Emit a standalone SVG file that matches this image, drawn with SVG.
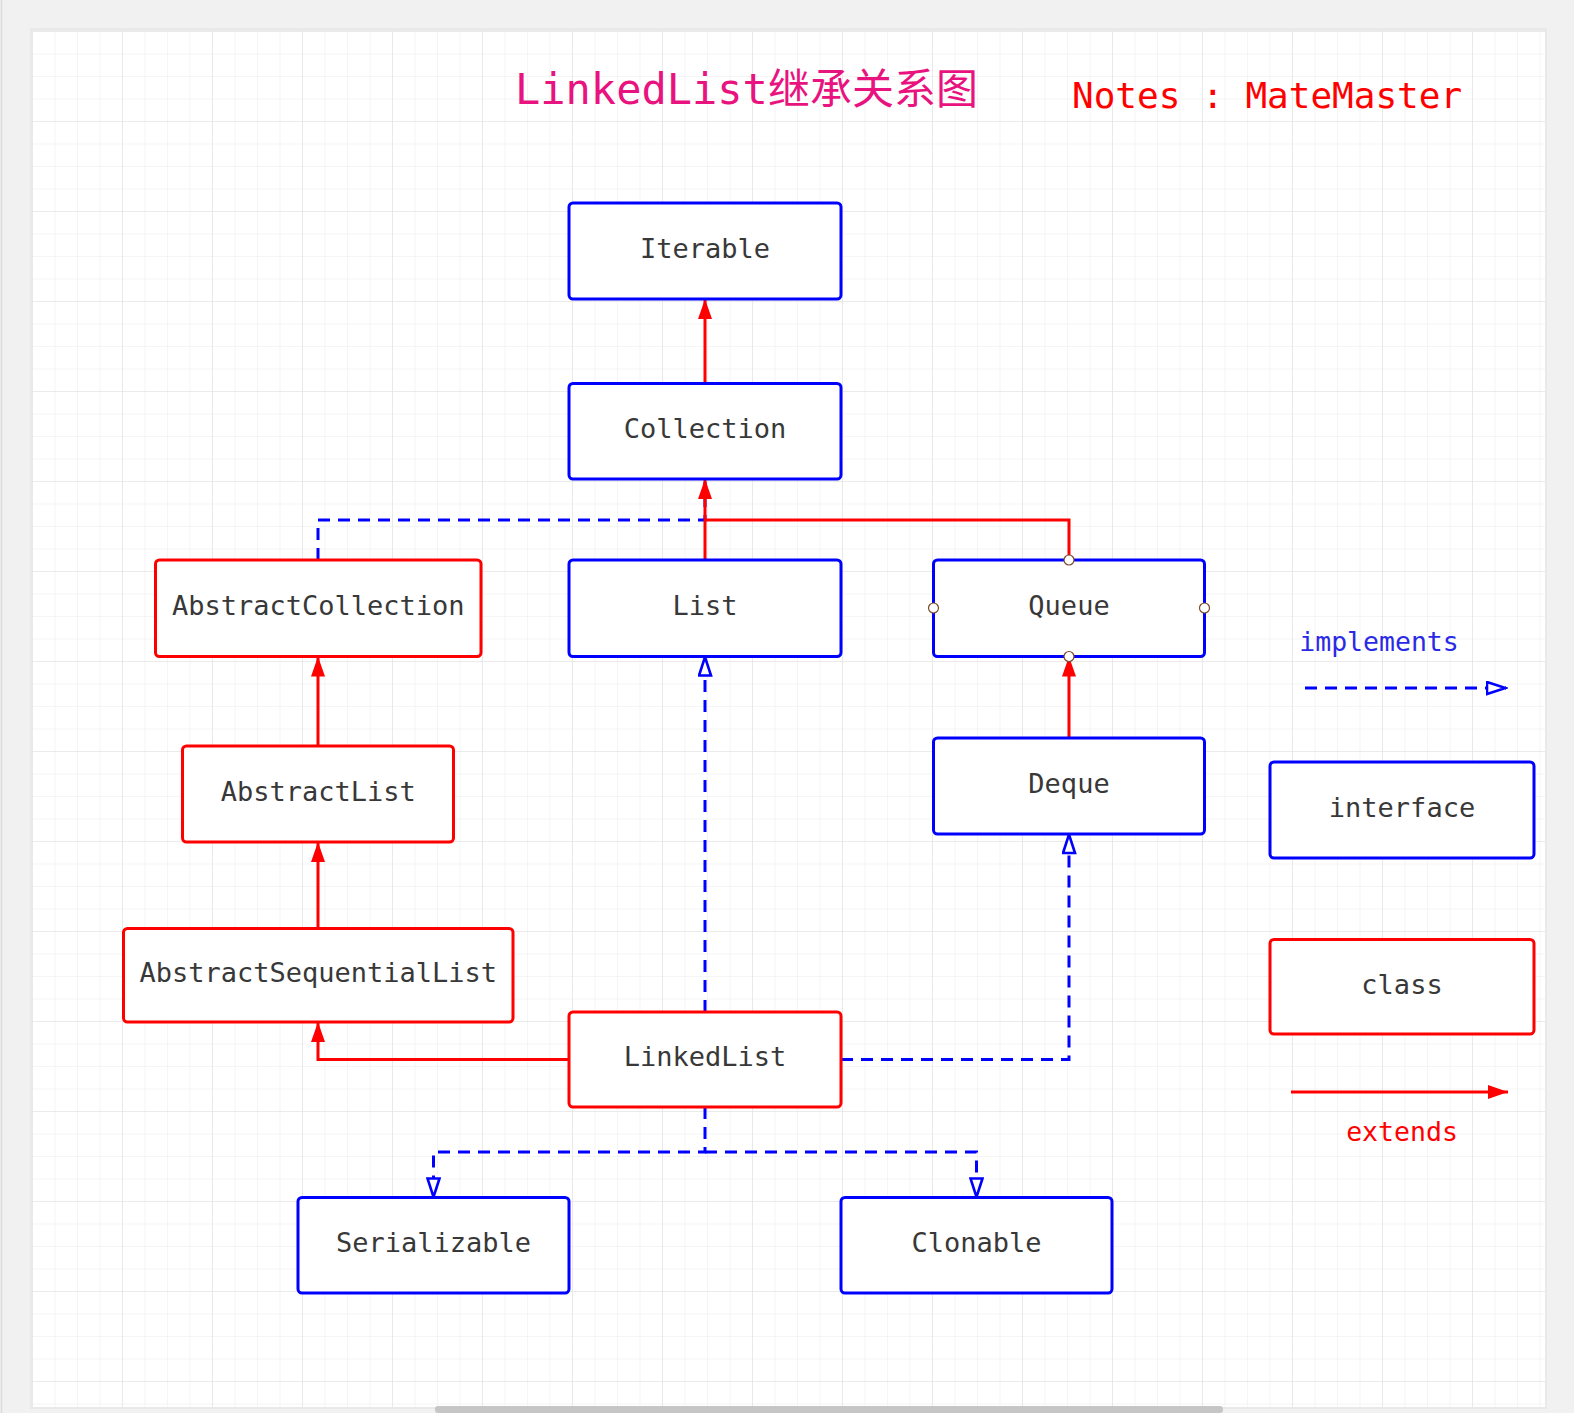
<svg xmlns="http://www.w3.org/2000/svg" width="1574" height="1413" viewBox="0 0 1574 1413">
<style>
.iface{fill:#fff;stroke:#0000ff;stroke-width:3}
.cls{fill:#fff;stroke:#ff0000;stroke-width:3}
.lbl{font-family:"DejaVu Sans Mono","Liberation Mono",monospace;font-size:27px;fill:#383838;text-anchor:middle}
.ext{fill:none;stroke:#ff0000;stroke-width:3}
.imp{fill:none;stroke:#0000ff;stroke-width:3;stroke-dasharray:12 8}
.port{fill:#fff;stroke:#7a4a2a;stroke-width:1.2}
</style>
<defs>
<pattern id="minor" x="32" y="31" width="22.5" height="22.5" patternUnits="userSpaceOnUse">
<path d="M0,0 H22.5 M0,0 V22.5" stroke="#ececec" stroke-width="1" fill="none"/>
</pattern>
<pattern id="major" x="32" y="31" width="90" height="90" patternUnits="userSpaceOnUse">
<path d="M0,0 H90 M0,0 V90" stroke="#e1e1e1" stroke-width="1.2" fill="none"/>
</pattern>
<marker id="aRed" viewBox="0 0 20 14" refX="20" refY="7" markerWidth="20" markerHeight="14" markerUnits="userSpaceOnUse" orient="auto">
<path d="M0,0 L20,7 L0,14 Z" fill="#ff0000"/>
</marker>
<marker id="aBlue" viewBox="0 0 22 15" refX="20.5" refY="7.5" markerWidth="22" markerHeight="15" markerUnits="userSpaceOnUse" orient="auto">
<path d="M1.5,1.5 L20,7.5 L1.5,13.5 Z" fill="#fff" stroke="#0000ff" stroke-width="2.6"/>
</marker>
</defs>

<g id="background">
<rect x="0" y="0" width="1574" height="1413" fill="#f1f1f1"/>
<line x1="1.5" y1="0" x2="1.5" y2="1413" stroke="#dcdcdc" stroke-width="1.5"/>
<rect x="30" y="28" width="1517" height="1381" fill="#e9e9e9"/>
<rect x="32" y="31" width="1513" height="1376" fill="#ffffff"/>
<rect x="32" y="31" width="1513" height="1376" fill="url(#minor)"/>
<rect x="32" y="31" width="1513" height="1376" fill="url(#major)"/>
<rect x="435" y="1406" width="788" height="7" rx="3" fill="#c6c6c6"/>
</g>

<g id="title">
<text x="515" y="104" font-family="'DejaVu Sans Mono','Noto Sans CJK SC',monospace" font-size="42" fill="#e8137e">LinkedList<tspan font-family="'Noto Sans CJK SC',sans-serif">继承关系图</tspan></text>
<text x="1072" y="108" font-family="'DejaVu Sans Mono','Liberation Mono',monospace" font-size="36" fill="#ff0000" xml:space="preserve">Notes : MateMaster</text>
</g>

<g id="connectors">
<path class="imp" d="M318,560 V520 H705 V482"/>
<path class="ext" d="M705,383 V299" marker-end="url(#aRed)"/>
<path class="ext" d="M1069,560 V520 H705"/>
<path class="ext" d="M705,560 V479" marker-end="url(#aRed)"/>
<path class="ext" d="M1069,738 V656.5" marker-end="url(#aRed)"/>
<path class="ext" d="M318,746 V656.5" marker-end="url(#aRed)"/>
<path class="ext" d="M318,928.5 V842" marker-end="url(#aRed)"/>
<path class="ext" d="M569,1059.5 H318 V1022" marker-end="url(#aRed)"/>
<path class="imp" d="M705,1012 V656.5" marker-end="url(#aBlue)"/>
<path class="imp" d="M841,1059.5 H1069 V834" marker-end="url(#aBlue)"/>
<path class="imp" d="M705,1107 V1152 H433.5 V1197.5" marker-end="url(#aBlue)"/>
<path class="imp" d="M705,1152 H976.5 V1197.5" marker-end="url(#aBlue)"/>
</g>

<g id="node-iterable">
<rect class="iface" x="569" y="203" width="272" height="96" rx="4"/>
<text class="lbl" x="705" y="258">Iterable</text>
</g>
<g id="node-collection">
<rect class="iface" x="569" y="383.5" width="272" height="95.5" rx="4"/>
<text class="lbl" x="705" y="438">Collection</text>
</g>
<g id="node-abstractcollection">
<rect class="cls" x="155.5" y="560" width="325.5" height="96.5" rx="4"/>
<text class="lbl" x="318.3" y="615">AbstractCollection</text>
</g>
<g id="node-list">
<rect class="iface" x="569" y="560" width="272" height="96.5" rx="4"/>
<text class="lbl" x="705" y="615">List</text>
</g>
<g id="node-queue">
<rect class="iface" x="933.5" y="560" width="271" height="96.5" rx="4"/>
<text class="lbl" x="1069" y="615">Queue</text>
<circle class="port" cx="1069" cy="560" r="5"/>
<circle class="port" cx="1069" cy="656.5" r="5"/>
<circle class="port" cx="933.5" cy="608" r="5"/>
<circle class="port" cx="1204.5" cy="608" r="5"/>
</g>
<g id="node-abstractlist">
<rect class="cls" x="182.5" y="746" width="271" height="96" rx="4"/>
<text class="lbl" x="318.2" y="801">AbstractList</text>
</g>
<g id="node-deque">
<rect class="iface" x="933.5" y="738" width="271" height="96" rx="4"/>
<text class="lbl" x="1069" y="793">Deque</text>
</g>
<g id="node-abstractsequentiallist">
<rect class="cls" x="123.5" y="928.5" width="389.5" height="93.5" rx="4"/>
<text class="lbl" x="318.3" y="982">AbstractSequentialList</text>
</g>
<g id="node-linkedlist">
<rect class="cls" x="569" y="1012" width="272" height="95" rx="4"/>
<text class="lbl" x="705" y="1066">LinkedList</text>
</g>
<g id="node-serializable">
<rect class="iface" x="298" y="1197.5" width="271" height="95.5" rx="4"/>
<text class="lbl" x="433.5" y="1252">Serializable</text>
</g>
<g id="node-clonable">
<rect class="iface" x="841" y="1197.5" width="271" height="95.5" rx="4"/>
<text class="lbl" x="976.5" y="1252">Clonable</text>
</g>

<g id="legend">
<text x="1379" y="651" font-family="'DejaVu Sans Mono','Liberation Mono',monospace" font-size="26.5" fill="#2a2ae6" text-anchor="middle">implements</text>
<path class="imp" d="M1305,688 H1506" marker-end="url(#aBlue)"/>
<g id="node-interface">
<rect class="iface" x="1270" y="762" width="264" height="96" rx="4"/>
<text class="lbl" x="1402" y="817">interface</text>
</g>
<g id="node-class">
<rect class="cls" x="1270" y="939.5" width="264" height="94.5" rx="4"/>
<text class="lbl" x="1402" y="994">class</text>
</g>
<path class="ext" d="M1291,1092 H1508" marker-end="url(#aRed)"/>
<text x="1402" y="1141" font-family="'DejaVu Sans Mono','Liberation Mono',monospace" font-size="26.5" fill="#ff0000" text-anchor="middle">extends</text>
</g>
</svg>
